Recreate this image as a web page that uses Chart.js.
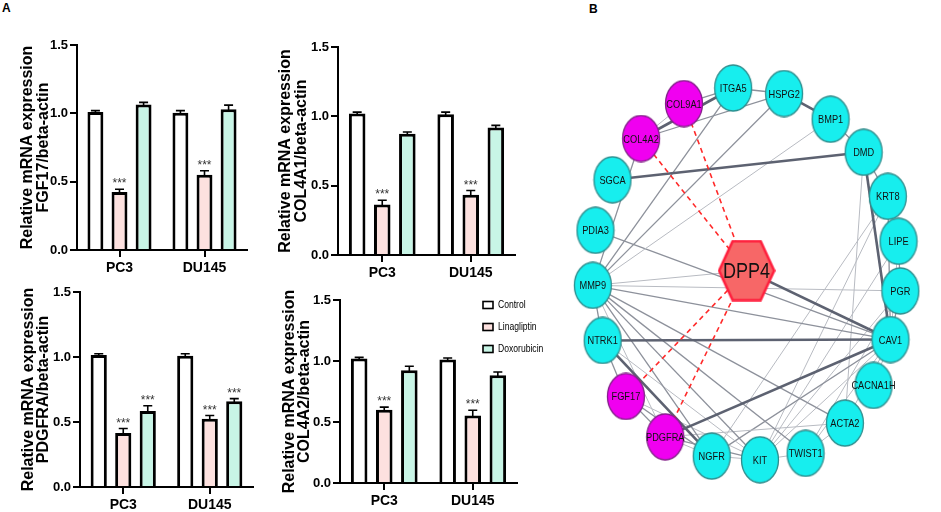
<!DOCTYPE html>
<html>
<head>
<meta charset="utf-8">
<script src="https://cdn.jsdelivr.net/npm/chart.js@4.4.1/dist/chart.umd.min.js"></script>
<style>
  body { margin: 0; background: #fff; width: 941px; height: 512px; position: relative; overflow: hidden; }
  canvas { position: absolute; }
  .tag { position: absolute; font: bold 12px "Liberation Sans", Arial, sans-serif; color: #000; }
</style>
</head>
<body>
<div class="tag" style="left:2px;top:1px">A</div>
<div class="tag" style="left:589px;top:2px">B</div>
<canvas id="c1" width="258" height="265" style="left:0px;top:25px"></canvas>
<canvas id="c2" width="280" height="265" style="left:258px;top:25px"></canvas>
<canvas id="c3" width="262" height="237" style="left:0px;top:275px"></canvas>
<canvas id="c4" width="290" height="237" style="left:262px;top:275px"></canvas>
<canvas id="net" width="396" height="512" style="left:545px;top:0px"></canvas>
<script>
// Panel A - qPCR, relative mRNA expression (mean, SEM), rows = treatment, cols = cell line
const cellLines = ['PC3', 'DU145'];
const treatments = ['Control', 'Linagliptin', 'Doxorubicin'];

const fgf17Means = [[1.01, 1.005], [0.425, 0.55], [1.065, 1.03]];
const fgf17Errs = [[0.01, 0.015], [0.02, 0.03], [0.015, 0.03]];
const fgf17Stars = [[0, 0], [1, 1], [0, 0]];

const col4a1Means = [[1.02, 1.015], [0.365, 0.435], [0.875, 0.92]];
const col4a1Errs = [[0.01, 0.015], [0.03, 0.03], [0.012, 0.015]];
const col4a1Stars = [[0, 0], [1, 1], [0, 0]];

const pdgfraMeans = [[1.015, 1.01], [0.415, 0.525], [0.585, 0.66]];
const pdgfraErrs = [[0.01, 0.015], [0.035, 0.025], [0.04, 0.02]];
const pdgfraStars = [[0, 0], [1, 1], [1, 1]];

const col4a2Means = [[1.02, 1.012], [0.60, 0.553], [0.925, 0.884]];
const col4a2Errs = [[0.01, 0.012], [0.022, 0.043], [0.032, 0.026]];
const col4a2Stars = [[0, 0], [1, 1], [0, 0]];

const yTicks = [0, 0.5, 1.0, 1.5];

// Panel B - network layout (layout units) and edges
const nodeNames = ['COL9A1', 'ITGA5', 'HSPG2', 'BMP1', 'DMD', 'KRT8', 'LIPE', 'PGR', 'CAV1', 'CACNA1H',
  'ACTA2', 'TWIST1', 'KIT', 'NGFR', 'PDGFRA', 'FGF17', 'NTRK1', 'MMP9', 'PDIA3', 'SGCA', 'COL4A2', 'DPP4'];
const nodeX = [677, 732, 789, 841, 878, 905, 917, 919, 908, 889,
  857, 813, 762, 708, 656, 612, 586, 575, 578, 597, 629, 747];
const nodeY = [90, 73, 79, 107, 143, 191, 240, 294, 347, 397,
  438, 471, 478, 474, 453, 409, 348, 288, 228, 173, 128, 272];
const nodeKind = ['target', 'gene', 'gene', 'gene', 'gene', 'gene', 'gene', 'gene', 'gene', 'gene',
  'gene', 'gene', 'gene', 'gene', 'target', 'target', 'gene', 'gene', 'gene', 'gene', 'target', 'drug'];

// [from, to, kind]  k = strong, m = medium, l = weak, d = predicted (dashed)
const edges = [
  ['DPP4', 'COL4A2', 'd'], ['DPP4', 'COL9A1', 'd'], ['DPP4', 'FGF17', 'd'], ['DPP4', 'PDGFRA', 'd'],
  ['SGCA', 'DMD', 'k'], ['DPP4', 'CAV1', 'k'], ['NTRK1', 'CAV1', 'k'], ['PDGFRA', 'CAV1', 'k'],
  ['NTRK1', 'NGFR', 'k'], ['HSPG2', 'BMP1', 'k'], ['COL4A2', 'ITGA5', 'k'], ['DMD', 'CAV1', 'k'],
  ['COL4A2', 'COL9A1', 'l'], ['COL9A1', 'ITGA5', 'm'], ['COL4A2', 'HSPG2', 'm'], ['ITGA5', 'HSPG2', 'm'],
  ['BMP1', 'DMD', 'm'], ['COL4A2', 'MMP9', 'm'], ['ITGA5', 'MMP9', 'm'], ['HSPG2', 'MMP9', 'm'],
  ['BMP1', 'MMP9', 'l'], ['PDIA3', 'CAV1', 'm'], ['MMP9', 'DPP4', 'l'], ['MMP9', 'PGR', 'l'],
  ['MMP9', 'CAV1', 'm'], ['MMP9', 'NTRK1', 'm'], ['MMP9', 'KIT', 'm'], ['MMP9', 'TWIST1', 'm'],
  ['MMP9', 'ACTA2', 'm'], ['MMP9', 'NGFR', 'm'], ['MMP9', 'PDGFRA', 'l'], ['NTRK1', 'KIT', 'l'],
  ['NTRK1', 'FGF17', 'm'], ['FGF17', 'NGFR', 'm'], ['FGF17', 'KIT', 'l'], ['FGF17', 'PDGFRA', 'm'],
  ['PDGFRA', 'NGFR', 'l'], ['PDGFRA', 'KIT', 'm'], ['PDGFRA', 'ACTA2', 'l'], ['NGFR', 'KIT', 'l'],
  ['NGFR', 'CAV1', 'm'], ['KIT', 'TWIST1', 'l'], ['TWIST1', 'ACTA2', 'l'], ['ACTA2', 'CAV1', 'l'],
  ['KIT', 'CAV1', 'l'], ['TWIST1', 'CAV1', 'l'], ['KIT', 'KRT8', 'l'], ['NGFR', 'KRT8', 'l'],
  ['KIT', 'LIPE', 'l'], ['TWIST1', 'PGR', 'l'], ['ACTA2', 'DMD', 'l'], ['CACNA1H', 'CAV1', 'l'],
  ['CAV1', 'PGR', 'm'], ['PGR', 'LIPE', 'm'], ['LIPE', 'KRT8', 'l'], ['KRT8', 'DMD', 'm'],
  ['CAV1', 'KRT8', 'm'], ['CAV1', 'LIPE', 'l'], ['KIT', 'PGR', 'l']
];

const SANS = '"Liberation Sans", Arial, sans-serif';
const barFill = ['#ffffff', '#fde1df', '#c8f5e6'];

// text squeezed horizontally, like the narrow lettering of the figure
const narrowText = (ctx, text, x, y, sx) => {
  ctx.save();
  ctx.translate(x, y);
  ctx.scale(sx, 1);
  ctx.fillText(text, 0, 0);
  ctx.restore();
};

// error bars + significance stars drawn from the dataset values
const errorBars = {
  id: 'errorBars',
  afterDatasetsDraw(chart) {
    const ctx = chart.ctx;
    const yScale = chart.scales.y;
    chart.data.datasets.forEach((ds, di) => {
      const meta = chart.getDatasetMeta(di);
      meta.data.forEach((bar, i) => {
        const top = yScale.getPixelForValue(ds.data[i] + ds.errors[i]);
        ctx.save();
        ctx.strokeStyle = '#000';
        ctx.lineWidth = 1.6;
        ctx.beginPath();
        ctx.moveTo(bar.x, bar.y + 1);
        ctx.lineTo(bar.x, top);
        ctx.moveTo(bar.x - 4.5, top);
        ctx.lineTo(bar.x + 4.5, top);
        ctx.stroke();
        if (ds.stars[i]) {
          ctx.fillStyle = '#333';
          ctx.font = '12px ' + SANS;
          ctx.textAlign = 'center';
          ctx.textBaseline = 'alphabetic';
          ctx.fillText('***', bar.x, top - 2);
        }
        ctx.restore();
      });
    });
  }
};

const sideLegend = {
  id: 'sideLegend',
  afterDraw(chart, args, opts) {
    if (!opts.show) return;
    const ctx = chart.ctx;
    const area = chart.chartArea;
    ctx.save();
    chart.data.datasets.forEach((ds, i) => {
      const x = area.right - 34;
      const y = area.top + 5 + i * 22;
      ctx.fillStyle = ds.backgroundColor;
      ctx.fillRect(x, y - 3.5, 10, 7);
      ctx.strokeStyle = '#000';
      ctx.lineWidth = 1.6;
      ctx.strokeRect(x, y - 3.5, 10, 7);
      ctx.fillStyle = '#000';
      ctx.font = '11px ' + SANS;
      ctx.textAlign = 'left';
      ctx.textBaseline = 'middle';
      narrowText(ctx, ds.label, x + 15, y, 0.78);
    });
    ctx.restore();
  }
};

const makeBars = (id, gene, means, errs, stars, box, withLegend) => {
  const datasets = treatments.map((t, k) => ({
    label: t,
    data: means[k],
    errors: errs[k],
    stars: stars[k],
    backgroundColor: barFill[k],
    borderColor: '#000',
    borderWidth: 3,
    categoryPercentage: 0.85,
    barPercentage: 0.66
  }));
  return new Chart(document.getElementById(id), {
    type: 'bar',
    data: { labels: cellLines, datasets: datasets },
    plugins: [errorBars, sideLegend],
    options: {
      responsive: false,
      animation: false,
      devicePixelRatio: 1,
      layout: { padding: { top: box.top, right: box.right, left: 0, bottom: 0 } },
      plugins: {
        legend: { display: false },
        tooltip: { enabled: false },
        sideLegend: { show: withLegend }
      },
      scales: {
        x: {
          grid: { offset: false, drawOnChartArea: false, tickLength: 7, color: '#000', lineWidth: 2 },
          border: { color: '#000', width: 2 },
          ticks: { color: '#000', padding: 3, font: { family: SANS, size: 14, weight: 'bold' } },
          afterFit: (s) => { s.height = box.xh; }
        },
        y: {
          min: 0,
          max: 1.5,
          afterBuildTicks: (s) => { s.ticks = yTicks.map(v => ({ value: v })); },
          grid: { drawOnChartArea: false, tickLength: 7, color: '#000', lineWidth: 2 },
          border: { color: '#000', width: 2 },
          ticks: {
            color: '#000', padding: 2,
            font: { family: SANS, size: 13, weight: 'bold' },
            callback: (v) => Number(v).toFixed(1)
          },
          title: {
            display: true,
            text: ['Relative mRNA expression', gene + '/beta-actin'],
            color: '#000',
            font: { family: SANS, size: 16, weight: 'bold', lineHeight: 0.95 },
            padding: { top: box.tpad, bottom: 0 }
          },
          afterFit: (s) => { s.width = box.yw; }
        }
      }
    }
  });
};

makeBars('c1', 'FGF17', fgf17Means, fgf17Errs, fgf17Stars, { yw: 77, top: 20, right: 11, xh: 40, tpad: 20.4 }, false);
makeBars('c2', 'COL4A1', col4a1Means, col4a1Errs, col4a1Stars, { yw: 80, top: 22, right: 23, xh: 35, tpad: 20.4 }, false);
makeBars('c3', 'PDGFRA', pdgfraMeans, pdgfraErrs, pdgfraStars, { yw: 80, top: 17, right: 9, xh: 25, tpad: 21 }, false);
makeBars('c4', 'COL4A2', col4a2Means, col4a2Errs, col4a2Stars, { yw: 78, top: 25, right: 35, xh: 29, tpad: 20 }, true);

// ---- Panel B network ----
const nodeStyle = {
  gene: { fill: '#17eeee', stroke: '#2e8d8d' },
  target: { fill: '#f000f0', stroke: '#84208a' },
  drug: { fill: '#f76767', stroke: '#ff1f3d' }
};

const ellipseSprite = (fill, stroke) => {
  const c = document.createElement('canvas');
  c.width = 40; c.height = 48;
  const g = c.getContext('2d');
  g.beginPath();
  g.ellipse(20, 24, 18.5, 23, 0, 0, Math.PI * 2);
  g.fillStyle = fill;
  g.fill();
  g.lineWidth = 1.3;
  g.strokeStyle = stroke;
  g.stroke();
  return c;
};

const hexSprite = (fill, stroke) => {
  const c = document.createElement('canvas');
  c.width = 58; c.height = 62;
  const g = c.getContext('2d');
  g.beginPath();
  g.moveTo(1.5, 31);
  g.lineTo(15, 1.5);
  g.lineTo(43, 1.5);
  g.lineTo(56.5, 31);
  g.lineTo(43, 60.5);
  g.lineTo(15, 60.5);
  g.closePath();
  g.fillStyle = fill;
  g.fill();
  g.lineWidth = 2.6;
  g.strokeStyle = stroke;
  g.stroke();
  return c;
};

const sprites = {
  gene: ellipseSprite(nodeStyle.gene.fill, nodeStyle.gene.stroke),
  target: ellipseSprite(nodeStyle.target.fill, nodeStyle.target.stroke),
  drug: hexSprite(nodeStyle.drug.fill, nodeStyle.drug.stroke)
};

const edgeStyle = {
  k: { color: '#5d6271', width: 2.6, dash: [] },
  m: { color: '#8d919b', width: 1.3, dash: [] },
  l: { color: '#b8bbc2', width: 1, dash: [] },
  d: { color: '#ff2a2a', width: 1.6, dash: [5, 4] }
};

const pos = (name) => {
  const i = nodeNames.indexOf(name);
  return { x: nodeX[i], y: nodeY[i] };
};

const edgeSets = edges.map(([a, b, kind]) => ({
  type: 'line',
  data: [pos(a), pos(b)],
  borderColor: edgeStyle[kind].color,
  borderWidth: edgeStyle[kind].width,
  borderDash: edgeStyle[kind].dash,
  pointRadius: 0,
  showLine: true,
  order: 1
}));

const nodeSet = {
  type: 'scatter',
  data: nodeNames.map((n, i) => ({ x: nodeX[i], y: nodeY[i] })),
  pointStyle: nodeKind.map(k => sprites[k]),
  pointRadius: 20,
  order: 0
};

const nodeLabels = {
  id: 'nodeLabels',
  afterDatasetsDraw(chart) {
    const ctx = chart.ctx;
    const meta = chart.getDatasetMeta(0);
    ctx.save();
    ctx.textAlign = 'center';
    ctx.textBaseline = 'middle';
    ctx.fillStyle = '#111';
    meta.data.forEach((p, i) => {
      const big = nodeKind[i] === 'drug';
      ctx.font = (big ? '22px ' : '11px ') + SANS;
      narrowText(ctx, nodeNames[i], p.x, p.y + 1, big ? 0.82 : 0.84);
    });
    ctx.restore();
  }
};

new Chart(document.getElementById('net'), {
  type: 'scatter',
  data: { datasets: [nodeSet, ...edgeSets] },
  plugins: [nodeLabels],
  options: {
    responsive: false,
    animation: false,
    devicePixelRatio: 1,
    layout: { padding: 0 },
    plugins: { legend: { display: false }, tooltip: { enabled: false } },
    scales: {
      x: { type: 'linear', min: 545, max: 941, display: false },
      y: { type: 'linear', min: 0, max: 512, reverse: true, display: false }
    }
  }
});
</script>
</body>
</html>
